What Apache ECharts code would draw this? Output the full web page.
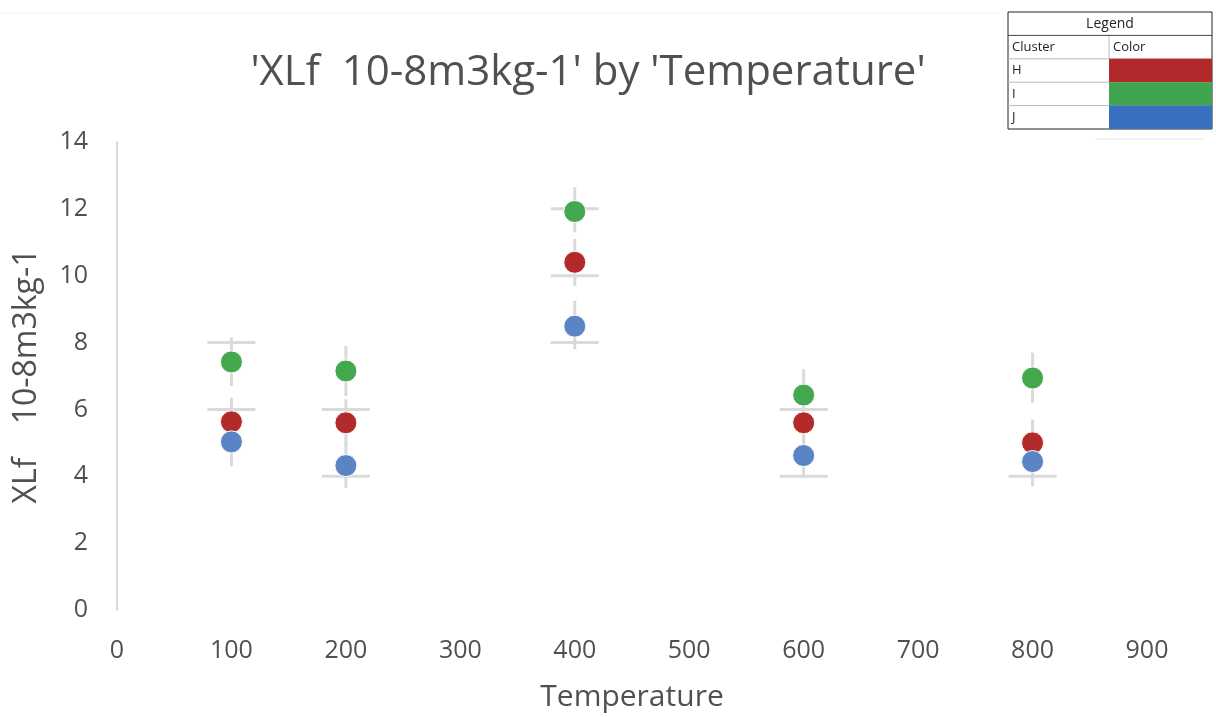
<!DOCTYPE html>
<html>
<head>
<meta charset="utf-8">
<script src="https://cdn.jsdelivr.net/npm/echarts@6/dist/echarts.min.js"></script>
<style>
  html, body { margin: 0; padding: 0; background: #fff; }
  #chart { width: 1216px; height: 717px; }
</style>
</head>
<body>
<div id="chart"></div>
<script>
// --- Data ---
const temperatures = [100, 200, 400, 600, 800];

const clusterNames = ['H', 'I', 'J'];
const clusterColors = ['#b22a2a', '#43a84e', '#5a84c3'];
const legendColors = ['#b3292b', '#3fa64f', '#3a70c0'];

const valuesH = [5.63, 5.6, 10.4, 5.6, 5.0];
const valuesI = [7.42, 7.15, 11.92, 6.43, 6.94];
const valuesJ = [5.03, 4.32, 8.49, 4.62, 4.44];

// error bar ranges [low, high]
const lowH = [5.0, 4.9, 9.7, 5.0, 4.4];
const highH = [6.35, 6.3, 11.1, 6.2, 5.7];
const lowI = [6.7, 6.4, 11.3, 5.9, 6.2];
const highI = [8.15, 7.9, 12.65, 7.2, 7.7];
const lowJ = [4.3, 3.65, 7.8, 3.95, 3.7];
const highJ = [5.6, 5.0, 9.25, 5.3, 5.1];

// horizontal caps [temperature, value]
const caps = [[100, 8], [100, 6], [200, 6], [200, 4], [400, 12], [400, 10], [400, 8], [600, 6], [600, 4], [800, 4]];

const FONT = '"Open Sans", "Liberation Sans", sans-serif';
const TEXT = '#505050';
const BAR = '#dadada';

const chart = echarts.init(document.getElementById('chart'));

const values = [valuesH, valuesI, valuesJ];
const lows = [lowH, lowI, lowJ];
const highs = [highH, highI, highJ];

const errorData = [];
lows.forEach((lo, c) => lo.forEach((l, i) => errorData.push([temperatures[i], l, highs[c][i]])));

const errorSeries = {
  type: 'custom',
  silent: true,
  z: 1,
  data: errorData,
  renderItem: (params, api) => {
    const top = api.coord([api.value(0), api.value(2)]);
    const bottom = api.coord([api.value(0), api.value(1)]);
    return {
      type: 'line',
      shape: { x1: top[0], y1: top[1], x2: bottom[0], y2: bottom[1] },
      style: { stroke: BAR, lineWidth: 3 }
    };
  }
};

const capSeries = {
  type: 'custom',
  silent: true,
  z: 1,
  data: caps,
  renderItem: (params, api) => {
    const p = api.coord([api.value(0), api.value(1)]);
    return {
      type: 'line',
      shape: { x1: p[0] - 24, y1: p[1], x2: p[0] + 24, y2: p[1] },
      style: { stroke: BAR, lineWidth: 3 }
    };
  }
};

const pointSeries = clusterNames.map((name, c) => ({
  name,
  type: 'scatter',
  z: 3,
  symbolSize: 22,
  itemStyle: { color: clusterColors[c], borderColor: '#fff', borderWidth: 1, opacity: 1 },
  data: values[c].map((v, i) => [temperatures[i], v])
}));

// legend table (graphic)
const LX = 1008, LY = 12, LW = 204, RH = 23.4, COL = 1109;
const legendGraphic = [
  { type: 'rect', shape: { x: LX, y: LY, width: LW, height: RH * 5 }, style: { fill: '#fff', stroke: '#222', lineWidth: 1 } },
  { type: 'text', x: LX + LW / 2, y: LY + RH / 2, style: { text: 'Legend', font: '14px ' + FONT, fill: '#222', align: 'center', verticalAlign: 'middle' } },
  { type: 'text', x: LX + 4, y: LY + RH * 1.5, style: { text: 'Cluster', font: '13px ' + FONT, fill: '#222', verticalAlign: 'middle' } },
  { type: 'text', x: COL + 4, y: LY + RH * 1.5, style: { text: 'Color', font: '13px ' + FONT, fill: '#222', verticalAlign: 'middle' } },
  { type: 'line', shape: { x1: COL, y1: LY + RH, x2: COL, y2: LY + RH * 2 }, style: { stroke: '#bbb', lineWidth: 1 } }
];
for (let r = 1; r < 5; r++) {
  legendGraphic.push({ type: 'line', shape: { x1: LX, y1: LY + RH * r, x2: LX + LW, y2: LY + RH * r }, style: { stroke: r === 1 ? '#444' : '#bbb', lineWidth: 1 } });
}
clusterNames.forEach((name, c) => {
  const y = LY + RH * (2 + c);
  legendGraphic.push({ type: 'rect', shape: { x: COL, y: y, width: LX + LW - COL, height: RH }, style: { fill: legendColors[c] } });
  legendGraphic.push({ type: 'text', x: LX + 4, y: y + RH / 2, style: { text: name, font: '13px ' + FONT, fill: '#222', verticalAlign: 'middle' } });
});
legendGraphic.push({ type: 'line', shape: { x1: 0, y1: 13, x2: 1000, y2: 13 }, style: { stroke: '#f2f2f2', lineWidth: 1 } });
legendGraphic.push({ type: 'line', shape: { x1: 1095, y1: 139, x2: 1205, y2: 139 }, style: { stroke: '#e6e6e6', lineWidth: 1 } });

const option = {
  backgroundColor: '#fff',
  animation: false,
  title: {
    text: "'XLf  10-8m3kg-1' by 'Temperature'",
    left: 583,
    top: 47,
    textAlign: 'center',
    textStyle: { fontFamily: FONT, fontSize: 42, fontWeight: 'normal', color: TEXT }
  },
  grid: { left: 117, right: 69, top: 142, bottom: 107, outerBoundsMode: 'none' },
  xAxis: {
    type: 'value',
    min: 0,
    max: 900,
    interval: 100,
    name: 'Temperature',
    nameLocation: 'middle',
    nameGap: 72,
    nameTextStyle: { fontFamily: FONT, fontSize: 30, color: TEXT },
    axisLine: { show: false },
    axisTick: { show: false },
    splitLine: { show: false },
    axisLabel: { fontFamily: FONT, fontSize: 25, color: TEXT, margin: 28 }
  },
  yAxis: {
    type: 'value',
    min: 0,
    max: 14,
    interval: 2,
    name: 'XLf    10-8m3kg-1',
    nameLocation: 'middle',
    nameGap: 74,
    nameTextStyle: { fontFamily: FONT, fontSize: 32, color: TEXT },
    axisLine: { show: true, lineStyle: { color: '#d9d9d9', width: 2 } },
    axisTick: { show: false },
    splitLine: { show: false },
    axisLabel: { fontFamily: FONT, fontSize: 25, color: TEXT, margin: 29 }
  },
  graphic: legendGraphic,
  series: [errorSeries, capSeries, ...pointSeries]
};

chart.setOption(option);
</script>
</body>
</html>
